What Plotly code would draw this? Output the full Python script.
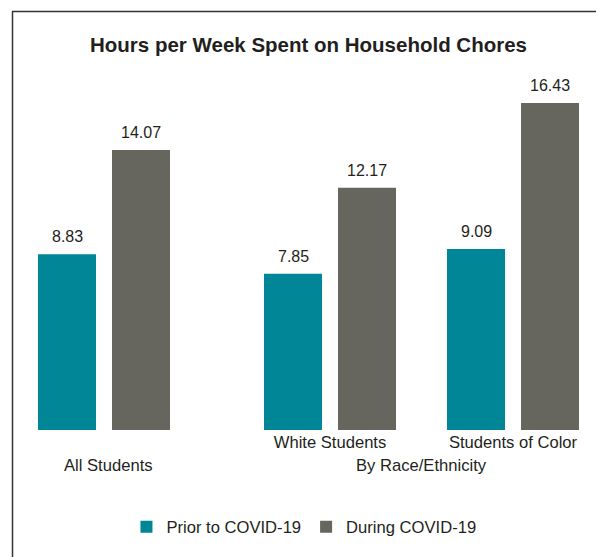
import plotly.graph_objects as go

# ---- data ----
subgroups = ["All Students", "White Students", "Students of Color"]
inner_labels = ["", "White Students", "Students of Color"]
outer_labels = ["All Students", "By Race/Ethnicity"]
series_names = ["Prior to COVID-19", "During COVID-19"]
prior_values = [8.83, 7.85, 9.09]
during_values = [14.07, 12.17, 16.43]
title_text = "Hours per Week Spent on Household Chores"

# ---- layout constants ----
W, H = 596, 557
group_pos = [0.0, 1.235, 2.235]
unit_px = 183.0
bar_w = 58 / unit_px
offsets = [-66 / unit_px, 8 / unit_px]
colors = ["#008696", "#67665e"]
text_color = "#231f20"
font_family = "Liberation Sans, Arial, Helvetica, sans-serif"
t_m, b_m = 80, 127
plot_h = H - t_m - b_m
y_max = plot_h / 19.9
x_start = -104 / unit_px
x_end = x_start + W / unit_px
lab_size = 16.6

fig = go.Figure()
for name, vals, off, col in zip(series_names, [prior_values, during_values], offsets, colors):
    fig.add_trace(go.Bar(
        x=group_pos, y=vals, name=name, width=bar_w, offset=off,
        marker=dict(color=col, line=dict(width=0)),
        hoverinfo="skip",
    ))

annotations = []
for vals, off in zip([prior_values, during_values], offsets):
    for p, v in zip(group_pos, vals):
        annotations.append(dict(
            x=p + off + bar_w / 2, y=v, xref="x", yref="y",
            text=f"{v:.2f}", showarrow=False, yanchor="bottom", yshift=7,
            font=dict(size=16, color=text_color, family=font_family),
        ))

def py_to_paper(py):
    return (H - b_m - py) / plot_h

annotations.append(dict(
    x=group_pos[0] + 4 / unit_px, y=py_to_paper(465), xref="x", yref="paper",
    text=outer_labels[0], showarrow=False, yanchor="middle",
    font=dict(size=lab_size, color=text_color, family=font_family),
))
annotations.append(dict(
    x=(group_pos[1] + group_pos[2]) / 2, y=py_to_paper(465), xref="x", yref="paper",
    text=outer_labels[1], showarrow=False, yanchor="middle",
    font=dict(size=lab_size, color=text_color, family=font_family),
))

shapes = [
    dict(type="line", xref="paper", yref="paper",
         x0=12 / W, x1=1.02, y0=py_to_paper(11.5), y1=py_to_paper(11.5),
         line=dict(color="#333333", width=1.5)),
    dict(type="line", xref="paper", yref="paper",
         x0=12.5 / W, x1=12.5 / W, y0=py_to_paper(11.5), y1=py_to_paper(H + 5),
         line=dict(color="#333333", width=1.5)),
]

fig.update_layout(
    width=W, height=H,
    margin=dict(l=0, r=0, t=t_m, b=b_m, pad=0),
    paper_bgcolor="white", plot_bgcolor="white",
    barmode="overlay",
    title=dict(
        text=f"<b>{title_text}</b>", x=308.5 / W, xanchor="center",
        y=1 - 45 / H, yanchor="middle", yref="container",
        font=dict(size=20.5, color=text_color, family=font_family),
    ),
    xaxis=dict(
        range=[x_start, x_end], tickvals=group_pos, ticktext=inner_labels,
        showgrid=False, zeroline=False, showline=False, ticks="",
        tickfont=dict(size=lab_size, color=text_color, family=font_family),
        fixedrange=True,
    ),
    yaxis=dict(
        range=[0, y_max], showgrid=False, zeroline=False, showline=False,
        showticklabels=False, ticks="", fixedrange=True,
    ),
    showlegend=True,
    legend=dict(
        orientation="h", x=0.51, xanchor="center", y=py_to_paper(527), yanchor="middle",
        font=dict(size=lab_size, color=text_color, family=font_family),
        itemwidth=30, traceorder="normal",
    ),
    annotations=annotations,
    shapes=shapes,
)

fig.write_html("out.html")
